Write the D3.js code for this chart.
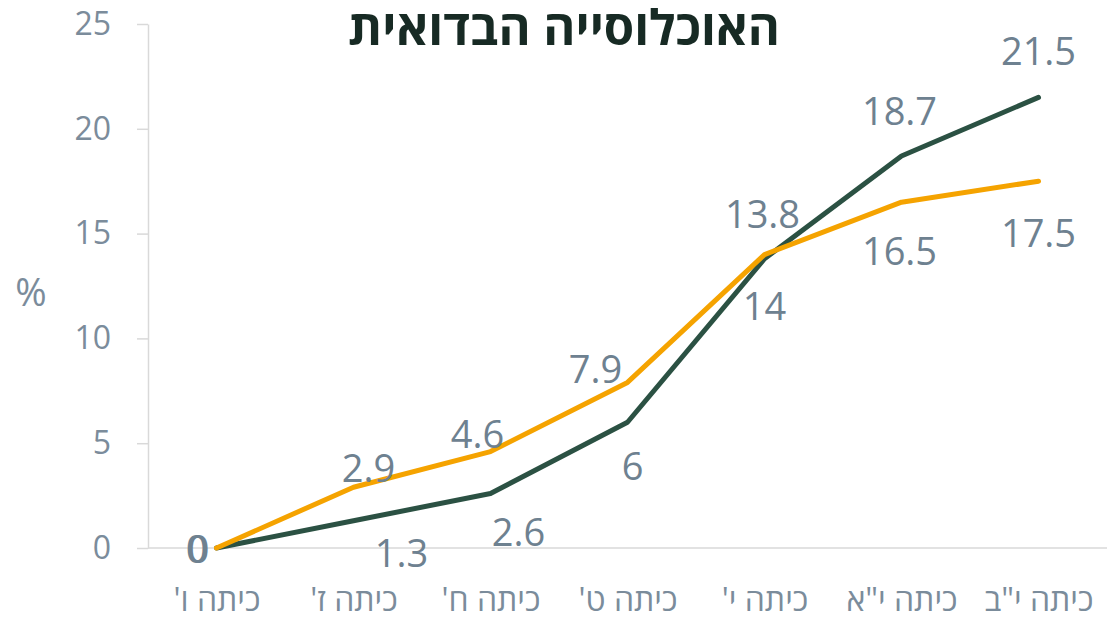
<!DOCTYPE html>
<html lang="he">
<head>
<meta charset="utf-8">
<script src="https://cdn.jsdelivr.net/npm/d3@7"></script>
<style>
  html, body { margin: 0; padding: 0; background: #fff; }
  svg { display: block; }
  text { font-family: "Open Sans", "DejaVu Sans", sans-serif; }
</style>
</head>
<body>
<svg id="chart" width="1107" height="617"></svg>
<script>
// ---- data ----
const categories = ["כיתה ו'", "כיתה ז'", "כיתה ח'", "כיתה ט'", "כיתה י'", "כיתה י\"א", "כיתה י\"ב"];
const seriesGreen = [0, 1.3, 2.6, 6, 13.8, 18.7, 21.5];
const seriesOrange = [0, 2.9, 4.6, 7.9, 14, 16.5, 17.5];
const yTicks = [0, 5, 10, 15, 20, 25];
const titleText = "האוכלוסייה הבדואית";
const yAxisLabel = "%";

// ---- label placement (layout, not data) ----
const greenLabelOffsets = [[-18, 0], [48, 31], [28, 37], [5, 43], [-2, -46], [-2, -46], [0, -47]];
const orangeLabelOffsets = [[-20, 0], [15, -20], [-13, -19], [-32, -14], [0, 50], [-2, 48], [0, 51]];

const svg = d3.select("#chart");
const mLeft = 148, mRight = 1107, mTop = 24, mBottom = 548;

const x = d3.scalePoint().domain(categories).range([mLeft, mRight]).padding(0.5);
const y = d3.scaleLinear().domain([0, 25]).range([mBottom, mTop]);

const axisColor = "#d9d9d9";
const textColor = "#7b8c9b";
const labelColor = "#6e8190";

// y axis
const yAxis = svg.append("g").attr("transform", `translate(${mLeft},0)`)
  .call(d3.axisLeft(y).tickValues(yTicks).tickSize(11).tickPadding(26).tickSizeOuter(0));
yAxis.select(".domain").attr("stroke", axisColor).attr("stroke-width", 1.5);
yAxis.selectAll(".tick line").attr("stroke", axisColor).attr("stroke-width", 1.5);
yAxis.selectAll(".tick text").attr("fill", textColor).attr("font-size", 32)
  .attr("font-family", "'Open Sans', 'DejaVu Sans', sans-serif");

// x axis
const xAxis = svg.append("g").attr("transform", `translate(0,${mBottom})`)
  .call(d3.axisBottom(x).tickSize(0).tickPadding(40).tickSizeOuter(0));
xAxis.select(".domain").attr("stroke", axisColor).attr("stroke-width", 1.5)
  .attr("d", `M${mLeft},0H${mRight}`);
xAxis.selectAll(".tick text").attr("fill", textColor).attr("font-size", 32)
  .attr("direction", "rtl")
  .attr("font-family", "'Open Sans', 'DejaVu Sans', sans-serif");

// y label
svg.append("text").attr("x", 31).attr("y", 291).attr("text-anchor", "middle")
  .attr("dominant-baseline", "central").attr("fill", textColor).attr("font-size", 38)
  .text(yAxisLabel);

// title
svg.append("text").attr("x", 564).attr("y", 45).attr("text-anchor", "middle")
  .attr("direction", "rtl")
  .attr("fill", "#172a24").attr("font-size", 49).attr("font-weight", "bold")
  .text(titleText);

const line = d3.line().x((d, i) => x(categories[i])).y(d => y(d));

const series = [
  { values: seriesGreen, color: "#2b5143", offsets: greenLabelOffsets },
  { values: seriesOrange, color: "#f5a300", offsets: orangeLabelOffsets }
];

series.forEach(s => {
  svg.append("path").datum(s.values).attr("d", line)
    .attr("fill", "none").attr("stroke", s.color).attr("stroke-width", 5)
    .attr("stroke-linejoin", "round").attr("stroke-linecap", "round");
});
series.forEach(s => {
  svg.append("g").selectAll("text").data(s.values).join("text")
    .attr("x", (d, i) => x(categories[i]) + s.offsets[i][0])
    .attr("y", (d, i) => y(d) + s.offsets[i][1])
    .attr("text-anchor", "middle").attr("dominant-baseline", "central")
    .attr("fill", labelColor).attr("font-size", 38)
    .text(d => d);
});
</script>
</body>
</html>
